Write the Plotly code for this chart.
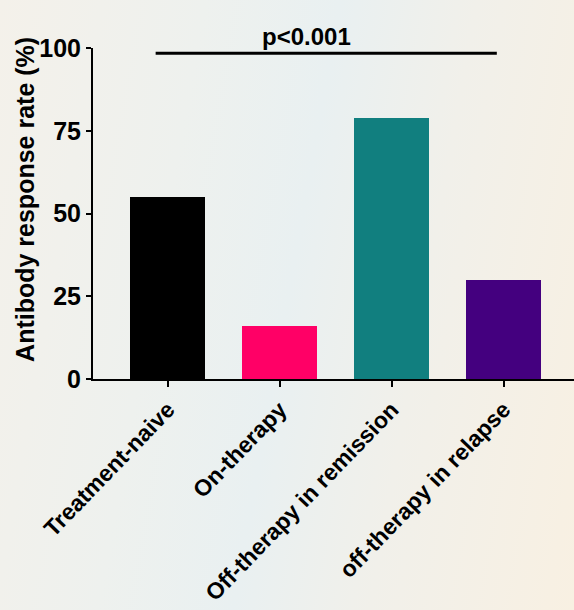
import plotly.graph_objects as go

categories = ["Treatment-naive", "On-therapy", "Off-therapy in remission", "off-therapy in relapse"]
values = [55, 16, 79, 30]
colors = ["#000000", "#ff0066", "#117f7f", "#44007f"]
y_ticks = [0, 25, 50, 75, 100]
y_title = "Antibody response rate (%)"
sig_label = "p<0.001"
sig_y = 98.4
sig_x = [-0.11, 2.94]
sig_label_x = 1.24

fig = go.Figure()
fig.add_trace(go.Bar(
    x=list(range(len(categories))), y=values,
    marker=dict(color=colors, line=dict(width=0)),
    width=0.67,
))

fig.add_shape(type="line", xref="x", yref="y",
              x0=sig_x[0], x1=sig_x[1], y0=sig_y, y1=sig_y,
              line=dict(color="black", width=3))
fig.add_annotation(xref="x", yref="y", x=sig_label_x, y=sig_y,
                   text="<b>" + sig_label + "</b>", showarrow=False,
                   yanchor="bottom", yshift=1,
                   font=dict(family="Arial, Liberation Sans", size=24, color="black"))
fig.add_annotation(xref="paper", yref="paper", x=0, y=0.541, xshift=-68,
                   xanchor="center", yanchor="middle", textangle=-90,
                   text="<b>" + y_title + "</b>", showarrow=False,
                   font=dict(family="Arial, Liberation Sans", size=25, color="black"))

fig.update_layout(
    width=574, height=610,
    margin=dict(l=93, r=0, t=48, b=231, autoexpand=False),
    paper_bgcolor="rgba(0,0,0,0)", plot_bgcolor="rgba(0,0,0,0)",
    showlegend=False,
    font=dict(family="Arial, Liberation Sans", color="black"),
    bargap=0,
)
fig.update_xaxes(
    range=[-0.67, 3.63], automargin=False,
    tickmode="array", tickvals=list(range(len(categories))),
    ticktext=["<b>" + c + "</b>" for c in categories],
    tickangle=-46, tickfont=dict(size=23, color="black"),
    showline=True, linecolor="black", linewidth=2,
    ticks="outside", ticklen=6, tickwidth=2, tickcolor="black",
    showgrid=False, zeroline=False,
)
fig.update_yaxes(
    range=[0, 100], automargin=False,
    tickmode="array", tickvals=y_ticks,
    ticktext=["<b>%d</b>" % t for t in y_ticks],
    tickfont=dict(size=25, color="black"),
    showline=True, linecolor="black", linewidth=2,
    ticks="outside", ticklen=5, tickwidth=2, tickcolor="black",
    showgrid=False, zeroline=False,
)

post = (
    "document.body.style.margin='0';"
    "document.body.style.overflow='hidden';"
    "document.body.style.background='linear-gradient(100deg, #f4f1ea 0%, #eef1ee 30%, #e9f0f1 50%, #f1f0ea 70%, #f8f0e2 100%)';"
)
fig.write_html("out.html", post_script=post, config={"displayModeBar": False})
